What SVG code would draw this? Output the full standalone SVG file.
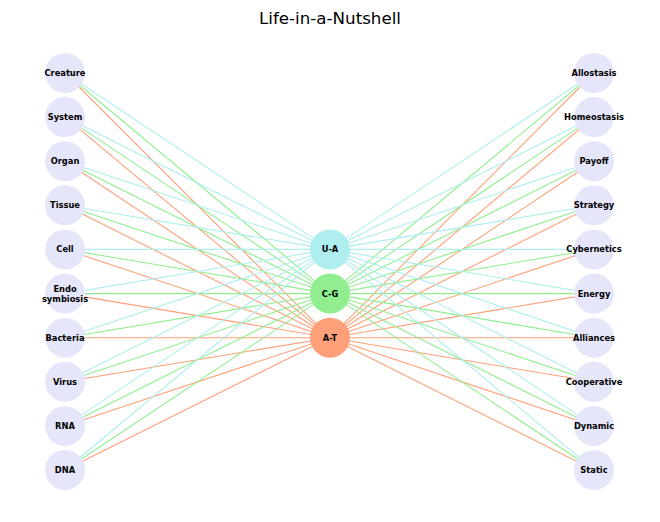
<svg xmlns="http://www.w3.org/2000/svg" width="660" height="522" viewBox="0 0 660 522">
<style>
.bg{fill:#ffffff}
.n{fill:#e6e6fa}
.t{font-family:"DejaVu Sans",sans-serif;font-weight:bold;font-size:8.3px;fill:#000;text-anchor:middle;dominant-baseline:central}
.title{font-family:"DejaVu Sans",sans-serif;font-size:16.7px;fill:#000;text-anchor:middle}
.ua{stroke:#afeeee;stroke-width:1.1}
.cg{stroke:#90ee90;stroke-width:1.1}
.at{stroke:#ffa07a;stroke-width:1.1}
</style>
<rect class="bg" x="0" y="0" width="660" height="522"/>
<text class="title" x="330" y="24">Life-in-a-Nutshell</text>
<g id="connectors">
<line class="ua" x1="65" y1="73" x2="330" y2="249.4"/><line class="cg" x1="65" y1="73" x2="330" y2="293.6"/><line class="at" x1="65" y1="73" x2="330" y2="337.7"/>
<line class="ua" x1="65" y1="117.1" x2="330" y2="249.4"/><line class="cg" x1="65" y1="117.1" x2="330" y2="293.6"/><line class="at" x1="65" y1="117.1" x2="330" y2="337.7"/>
<line class="ua" x1="65" y1="161.2" x2="330" y2="249.4"/><line class="cg" x1="65" y1="161.2" x2="330" y2="293.6"/><line class="at" x1="65" y1="161.2" x2="330" y2="337.7"/>
<line class="ua" x1="65" y1="205.3" x2="330" y2="249.4"/><line class="cg" x1="65" y1="205.3" x2="330" y2="293.6"/><line class="at" x1="65" y1="205.3" x2="330" y2="337.7"/>
<line class="ua" x1="65" y1="249.4" x2="330" y2="249.4"/><line class="cg" x1="65" y1="249.4" x2="330" y2="293.6"/><line class="at" x1="65" y1="249.4" x2="330" y2="337.7"/>
<line class="ua" x1="65" y1="293.6" x2="330" y2="249.4"/><line class="cg" x1="65" y1="293.6" x2="330" y2="293.6"/><line class="at" x1="65" y1="293.6" x2="330" y2="337.7"/>
<line class="ua" x1="65" y1="337.7" x2="330" y2="249.4"/><line class="cg" x1="65" y1="337.7" x2="330" y2="293.6"/><line class="at" x1="65" y1="337.7" x2="330" y2="337.7"/>
<line class="ua" x1="65" y1="381.8" x2="330" y2="249.4"/><line class="cg" x1="65" y1="381.8" x2="330" y2="293.6"/><line class="at" x1="65" y1="381.8" x2="330" y2="337.7"/>
<line class="ua" x1="65" y1="425.9" x2="330" y2="249.4"/><line class="cg" x1="65" y1="425.9" x2="330" y2="293.6"/><line class="at" x1="65" y1="425.9" x2="330" y2="337.7"/>
<line class="ua" x1="65" y1="470" x2="330" y2="249.4"/><line class="cg" x1="65" y1="470" x2="330" y2="293.6"/><line class="at" x1="65" y1="470" x2="330" y2="337.7"/>
<line class="ua" x1="594" y1="73" x2="330" y2="249.4"/><line class="cg" x1="594" y1="73" x2="330" y2="293.6"/><line class="at" x1="594" y1="73" x2="330" y2="337.7"/>
<line class="ua" x1="594" y1="117.1" x2="330" y2="249.4"/><line class="cg" x1="594" y1="117.1" x2="330" y2="293.6"/><line class="at" x1="594" y1="117.1" x2="330" y2="337.7"/>
<line class="ua" x1="594" y1="161.2" x2="330" y2="249.4"/><line class="cg" x1="594" y1="161.2" x2="330" y2="293.6"/><line class="at" x1="594" y1="161.2" x2="330" y2="337.7"/>
<line class="ua" x1="594" y1="205.3" x2="330" y2="249.4"/><line class="cg" x1="594" y1="205.3" x2="330" y2="293.6"/><line class="at" x1="594" y1="205.3" x2="330" y2="337.7"/>
<line class="ua" x1="594" y1="249.4" x2="330" y2="249.4"/><line class="cg" x1="594" y1="249.4" x2="330" y2="293.6"/><line class="at" x1="594" y1="249.4" x2="330" y2="337.7"/>
<line class="ua" x1="594" y1="293.6" x2="330" y2="249.4"/><line class="cg" x1="594" y1="293.6" x2="330" y2="293.6"/><line class="at" x1="594" y1="293.6" x2="330" y2="337.7"/>
<line class="ua" x1="594" y1="337.7" x2="330" y2="249.4"/><line class="cg" x1="594" y1="337.7" x2="330" y2="293.6"/><line class="at" x1="594" y1="337.7" x2="330" y2="337.7"/>
<line class="ua" x1="594" y1="381.8" x2="330" y2="249.4"/><line class="cg" x1="594" y1="381.8" x2="330" y2="293.6"/><line class="at" x1="594" y1="381.8" x2="330" y2="337.7"/>
<line class="ua" x1="594" y1="425.9" x2="330" y2="249.4"/><line class="cg" x1="594" y1="425.9" x2="330" y2="293.6"/><line class="at" x1="594" y1="425.9" x2="330" y2="337.7"/>
<line class="ua" x1="594" y1="470" x2="330" y2="249.4"/><line class="cg" x1="594" y1="470" x2="330" y2="293.6"/><line class="at" x1="594" y1="470" x2="330" y2="337.7"/>
</g>
<g id="node-creature"><circle class="n" cx="65" cy="73" r="20"/><text class="t" x="65" y="73">Creature</text></g>
<g id="node-system"><circle class="n" cx="65" cy="117.1" r="20"/><text class="t" x="65" y="117.1">System</text></g>
<g id="node-organ"><circle class="n" cx="65" cy="161.2" r="20"/><text class="t" x="65" y="161.2">Organ</text></g>
<g id="node-tissue"><circle class="n" cx="65" cy="205.3" r="20"/><text class="t" x="65" y="205.3">Tissue</text></g>
<g id="node-cell"><circle class="n" cx="65" cy="249.4" r="20"/><text class="t" x="65" y="249.4">Cell</text></g>
<g id="node-endosymbiosis"><circle class="n" cx="65" cy="293.6" r="20"/><text class="t" x="65" y="288.6">Endo</text><text class="t" x="65" y="298.6">symbiosis</text></g>
<g id="node-bacteria"><circle class="n" cx="65" cy="337.7" r="20"/><text class="t" x="65" y="337.7">Bacteria</text></g>
<g id="node-virus"><circle class="n" cx="65" cy="381.8" r="20"/><text class="t" x="65" y="381.8">Virus</text></g>
<g id="node-rna"><circle class="n" cx="65" cy="425.9" r="20"/><text class="t" x="65" y="425.9">RNA</text></g>
<g id="node-dna"><circle class="n" cx="65" cy="470" r="20"/><text class="t" x="65" y="470">DNA</text></g>
<g id="node-allostasis"><circle class="n" cx="594" cy="73" r="20"/><text class="t" x="594" y="73">Allostasis</text></g>
<g id="node-homeostasis"><circle class="n" cx="594" cy="117.1" r="20"/><text class="t" x="594" y="117.1">Homeostasis</text></g>
<g id="node-payoff"><circle class="n" cx="594" cy="161.2" r="20"/><text class="t" x="594" y="161.2">Payoff</text></g>
<g id="node-strategy"><circle class="n" cx="594" cy="205.3" r="20"/><text class="t" x="594" y="205.3">Strategy</text></g>
<g id="node-cybernetics"><circle class="n" cx="594" cy="249.4" r="20"/><text class="t" x="594" y="249.4">Cybernetics</text></g>
<g id="node-energy"><circle class="n" cx="594" cy="293.6" r="20"/><text class="t" x="594" y="293.6">Energy</text></g>
<g id="node-alliances"><circle class="n" cx="594" cy="337.7" r="20"/><text class="t" x="594" y="337.7">Alliances</text></g>
<g id="node-cooperative"><circle class="n" cx="594" cy="381.8" r="20"/><text class="t" x="594" y="381.8">Cooperative</text></g>
<g id="node-dynamic"><circle class="n" cx="594" cy="425.9" r="20"/><text class="t" x="594" y="425.9">Dynamic</text></g>
<g id="node-static"><circle class="n" cx="594" cy="470" r="20"/><text class="t" x="594" y="470">Static</text></g>
<g id="node-ua"><circle cx="330" cy="249.4" r="20" fill="#afeeee"/><text class="t" x="330" y="249.4">U-A</text></g>
<g id="node-cg"><circle cx="330" cy="293.6" r="20" fill="#90ee90"/><text class="t" x="330" y="293.6">C-G</text></g>
<g id="node-at"><circle cx="330" cy="337.7" r="20" fill="#ffa07a"/><text class="t" x="330" y="337.7">A-T</text></g>
</svg>
